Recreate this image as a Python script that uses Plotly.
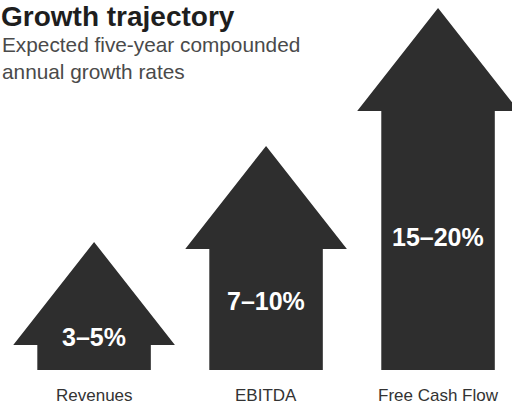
import plotly.graph_objects as go

# Expected five-year compounded annual growth rates
categories = ["Revenues", "EBITDA", "Free Cash Flow"]
rate_labels = ["3–5%", "7–10%", "15–20%"]
# Overall arrow length (chart units) for each metric
arrow_length = [128, 224, 362]

# Arrow geometry (chart units)
HEAD_W = 0.94
SHAFT_W = 0.66
HEAD_H = 103

ARROW_COLOR = "#2e2e2e"
FONT = "Liberation Sans, Arial, sans-serif"

fig = go.Figure()

for i, (name, length) in enumerate(zip(categories, arrow_length)):
    neck = length - HEAD_H
    xs = [i - SHAFT_W / 2, i - SHAFT_W / 2, i - HEAD_W / 2, i,
          i + HEAD_W / 2, i + SHAFT_W / 2, i + SHAFT_W / 2, i - SHAFT_W / 2]
    ys = [0, neck, neck, length, neck, neck, 0, 0]
    fig.add_trace(go.Scatter(
        x=xs, y=ys, mode="lines", fill="toself",
        fillcolor=ARROW_COLOR, line=dict(color=ARROW_COLOR, width=0),
        hoverinfo="skip", showlegend=False, name=name,
    ))

# Rate labels inside each arrow, placed along the shaft
for i, (txt, length) in enumerate(zip(rate_labels, arrow_length)):
    y_lab = max(33, 0.464 * (length - HEAD_H) + 13)
    fig.add_annotation(
        x=i, y=y_lab, text=f"<b>{txt}</b>", showarrow=False,
        font=dict(family=FONT, size=25, color="white"),
        xanchor="center", yanchor="middle",
    )

# Category names below the arrows
for i, name in enumerate(categories):
    fig.add_annotation(
        x=i, y=-25, text=name, showarrow=False,
        font=dict(family=FONT, size=17, color="#333333"),
        xanchor="center", yanchor="middle",
    )

# Title and subtitle
fig.add_annotation(
    xref="paper", yref="paper", x=0, y=1.0,
    text="<b>Growth trajectory</b>", showarrow=False, borderpad=0,
    font=dict(family=FONT, size=28, color="#1e1e1e"),
    xanchor="left", yanchor="top",
)
fig.add_annotation(
    xref="paper", yref="paper", x=0, y=0.924,
    text="Expected five-year compounded<br>annual growth rates", showarrow=False,
    font=dict(family=FONT, size=20.8, color="#4a4a4a"),
    xanchor="left", yanchor="top", align="left",
)

fig.update_layout(
    width=512, height=407,
    margin=dict(l=0, r=0, t=0, b=0),
    paper_bgcolor="white", plot_bgcolor="white",
    xaxis=dict(range=[-0.547, 2.430], visible=False, fixedrange=True),
    yaxis=dict(range=[-37, 370], visible=False, fixedrange=True),
)

fig.write_html("out.html")
